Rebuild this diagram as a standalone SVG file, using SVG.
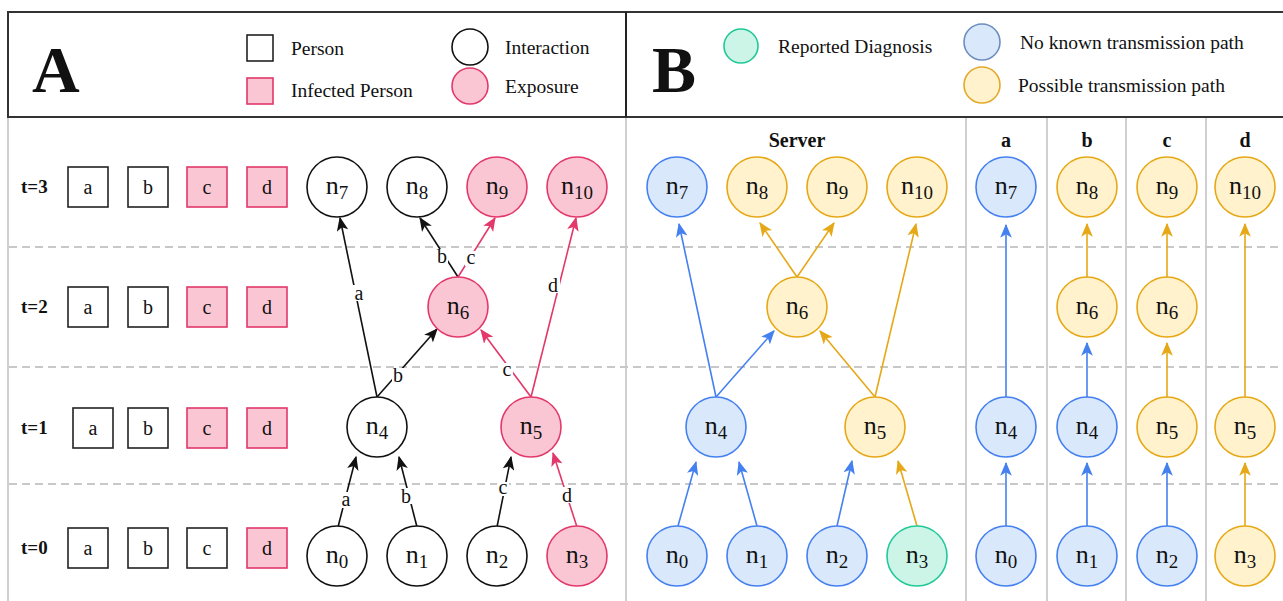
<svg xmlns="http://www.w3.org/2000/svg" width="1283" height="601" viewBox="0 0 1283 601">
<style>
text{font-family:"Liberation Serif","Times New Roman",serif;fill:#111}
.big{font-size:66px;font-weight:bold}
.lg{font-size:19.5px}
.rl{font-size:19px;font-weight:bold}
.hd{font-size:20px;font-weight:bold;text-anchor:middle}
.sq{font-size:20px;text-anchor:middle}
.nt{font-size:26px;text-anchor:middle}
.sub{font-size:19px}
.el{font-size:20px;text-anchor:middle}
.k{fill:#fff;stroke:#111;stroke-width:1.6}
.p{fill:#fbc6d3;stroke:#e2386a;stroke-width:1.6}
.bl{fill:#dae8fc;stroke:#4580f0;stroke-width:1.6}
.or{fill:#fff2cc;stroke:#e6a817;stroke-width:1.6}
.tl{fill:#cdf5e7;stroke:#20c997;stroke-width:1.6}
.sqk{fill:#fff;stroke:#222;stroke-width:1.6}
.sqp{fill:#fbc6d3;stroke:#e2386a;stroke-width:1.6}
.ek{stroke:#111;stroke-width:1.6;fill:none;marker-end:url(#ak)}
.ep{stroke:#e2386a;stroke-width:1.6;fill:none;marker-end:url(#ap)}
.eb{stroke:#4580f0;stroke-width:1.6;fill:none;marker-end:url(#ab)}
.eo{stroke:#e6a817;stroke-width:1.6;fill:none;marker-end:url(#ao)}
.dash{stroke:#c8c8c8;stroke-width:2;stroke-dasharray:8 5}
.vg{stroke:#d0d0d0;stroke-width:2}
.lb{fill:#fff}
</style>
<defs>
<marker id="ak" viewBox="0 0 12 10" markerWidth="14" markerHeight="12" refX="11" refY="5" orient="auto" markerUnits="userSpaceOnUse"><path d="M0,0 L12,5 L0,10 L3,5 z" fill="#111"/></marker>
<marker id="ap" viewBox="0 0 12 10" markerWidth="14" markerHeight="12" refX="11" refY="5" orient="auto" markerUnits="userSpaceOnUse"><path d="M0,0 L12,5 L0,10 L3,5 z" fill="#e2386a"/></marker>
<marker id="ab" viewBox="0 0 12 10" markerWidth="14" markerHeight="12" refX="11" refY="5" orient="auto" markerUnits="userSpaceOnUse"><path d="M0,0 L12,5 L0,10 L3,5 z" fill="#4580f0"/></marker>
<marker id="ao" viewBox="0 0 12 10" markerWidth="14" markerHeight="12" refX="11" refY="5" orient="auto" markerUnits="userSpaceOnUse"><path d="M0,0 L12,5 L0,10 L3,5 z" fill="#e6a817"/></marker>
</defs>
<rect width="1283" height="601" fill="#fff"/>

<g id="frame">
<rect x="8" y="12" width="1290" height="105" fill="none" stroke="#333" stroke-width="2"/>
<line x1="626" y1="12" x2="626" y2="117" stroke="#222" stroke-width="2"/>
<line class="vg" x1="8" y1="118" x2="8" y2="601"/>
<line class="vg" x1="626" y1="118" x2="626" y2="601"/>
<line class="vg" x1="966" y1="118" x2="966" y2="601"/>
<line class="vg" x1="1047" y1="118" x2="1047" y2="601"/>
<line class="vg" x1="1126" y1="118" x2="1126" y2="601"/>
<line class="vg" x1="1206" y1="118" x2="1206" y2="601"/>
<line class="dash" x1="9" y1="247" x2="1283" y2="247"/>
<line class="dash" x1="9" y1="367" x2="1283" y2="367"/>
<line class="dash" x1="9" y1="484" x2="1283" y2="484"/>
</g>

<g id="legendA">
<text class="big" x="32" y="92">A</text>
<rect class="sqk" x="247" y="35" width="26" height="26"/>
<text class="lg" x="291" y="55">Person</text>
<rect class="sqp" x="247" y="78" width="26" height="26"/>
<text class="lg" x="291" y="97">Infected Person</text>
<circle class="k" cx="470" cy="47" r="18"/>
<text class="lg" x="505" y="54">Interaction</text>
<circle class="p" cx="470" cy="86" r="18"/>
<text class="lg" x="505" y="93">Exposure</text>
</g>

<g id="legendB">
<text class="big" x="652" y="92">B</text>
<circle cx="741" cy="46" r="17" fill="#cdf5e7" stroke="#20c997" stroke-width="1.6"/>
<text class="lg" x="778" y="53">Reported Diagnosis</text>
<circle cx="982" cy="42" r="18" fill="#dae8fc" stroke="#6c8ebf" stroke-width="1.6"/>
<text class="lg" x="1020" y="49">No known transmission path</text>
<circle cx="982" cy="85" r="18" fill="#fff2cc" stroke="#e2a92a" stroke-width="1.6"/>
<text class="lg" x="1018" y="92">Possible transmission path</text>
</g>

<g id="rows">
<text class="rl" x="21" y="193">t=3</text>
<rect class="sqk" x="68" y="167" width="40" height="40"/><text class="sq" x="88" y="194">a</text>
<rect class="sqk" x="128" y="167" width="40" height="40"/><text class="sq" x="148" y="194">b</text>
<rect class="sqp" x="187" y="167" width="40" height="40"/><text class="sq" x="207" y="194">c</text>
<rect class="sqp" x="247" y="167" width="40" height="40"/><text class="sq" x="267" y="194">d</text>

<text class="rl" x="21" y="313">t=2</text>
<rect class="sqk" x="68" y="287" width="40" height="40"/><text class="sq" x="88" y="314">a</text>
<rect class="sqk" x="128" y="287" width="40" height="40"/><text class="sq" x="148" y="314">b</text>
<rect class="sqp" x="187" y="287" width="40" height="40"/><text class="sq" x="207" y="314">c</text>
<rect class="sqp" x="247" y="287" width="40" height="40"/><text class="sq" x="267" y="314">d</text>

<text class="rl" x="21" y="434">t=1</text>
<rect class="sqk" x="73" y="408" width="40" height="40"/><text class="sq" x="93" y="435">a</text>
<rect class="sqk" x="128" y="408" width="40" height="40"/><text class="sq" x="148" y="435">b</text>
<rect class="sqp" x="187" y="408" width="40" height="40"/><text class="sq" x="207" y="435">c</text>
<rect class="sqp" x="247" y="408" width="40" height="40"/><text class="sq" x="267" y="435">d</text>

<text class="rl" x="21" y="554">t=0</text>
<rect class="sqk" x="68" y="528" width="40" height="40"/><text class="sq" x="88" y="555">a</text>
<rect class="sqk" x="128" y="528" width="40" height="40"/><text class="sq" x="148" y="555">b</text>
<rect class="sqk" x="187" y="528" width="40" height="40"/><text class="sq" x="207" y="555">c</text>
<rect class="sqp" x="247" y="528" width="40" height="40"/><text class="sq" x="267" y="555">d</text>
</g>

<g id="headers">
<text class="hd" x="797" y="147">Server</text>
<text class="hd" x="1006" y="147">a</text>
<text class="hd" x="1087" y="147">b</text>
<text class="hd" x="1167" y="147">c</text>
<text class="hd" x="1245" y="147">d</text>
</g>

<g id="connectors">
<!-- A -->
<line class="ek" x1="338" y1="527" x2="356" y2="457"/>
<line class="ek" x1="417" y1="527" x2="399" y2="457"/>
<line class="ek" x1="497" y1="527" x2="511" y2="457"/>
<line class="ep" x1="577" y1="527" x2="553" y2="453"/>
<line class="ek" x1="377" y1="397" x2="340" y2="218"/>
<line class="ek" x1="377" y1="397" x2="437" y2="329"/>
<line class="ep" x1="531" y1="397" x2="481" y2="330"/>
<line class="ep" x1="531" y1="397" x2="576" y2="218"/>
<line class="ek" x1="458" y1="277" x2="420" y2="218"/>
<line class="ep" x1="458" y1="277" x2="495" y2="218"/>
<rect class="lb" x="340" y="492" width="12" height="16"/><text class="el" x="346" y="506">a</text>
<rect class="lb" x="400" y="488" width="12" height="16"/><text class="el" x="406" y="503">b</text>
<rect class="lb" x="497" y="482" width="12" height="14"/><text class="el" x="503" y="494">c</text>
<rect class="lb" x="560" y="487" width="13" height="16"/><text class="el" x="567" y="502">d</text>
<rect class="lb" x="353" y="285" width="12" height="16"/><text class="el" x="359" y="300">a</text>
<rect class="lb" x="392" y="368" width="12" height="16"/><text class="el" x="398" y="382">b</text>
<rect class="lb" x="501" y="363" width="12" height="15"/><text class="el" x="507" y="376">c</text>
<rect class="lb" x="547" y="277" width="13" height="16"/><text class="el" x="553" y="292">d</text>
<rect class="lb" x="436" y="249" width="12" height="16"/><text class="el" x="442" y="263">b</text>
<rect class="lb" x="465" y="251" width="12" height="15"/><text class="el" x="471" y="264">c</text>
<!-- B server -->
<line class="eb" x1="678" y1="526" x2="696" y2="462"/>
<line class="eb" x1="757" y1="526" x2="739" y2="462"/>
<line class="eb" x1="837" y1="526" x2="852" y2="461"/>
<line class="eo" x1="917" y1="526" x2="898" y2="461"/>
<line class="eb" x1="716" y1="397" x2="679" y2="224"/>
<line class="eb" x1="716" y1="397" x2="774" y2="331"/>
<line class="eo" x1="875" y1="397" x2="820" y2="331"/>
<line class="eo" x1="875" y1="397" x2="916" y2="224"/>
<line class="eo" x1="797" y1="277" x2="760" y2="223"/>
<line class="eo" x1="797" y1="277" x2="834" y2="223"/>
<!-- B columns -->
<line class="eb" x1="1006" y1="526" x2="1006" y2="463"/>
<line class="eb" x1="1006" y1="397" x2="1006" y2="225"/>
<line class="eb" x1="1087" y1="526" x2="1087" y2="463"/>
<line class="eb" x1="1087" y1="397" x2="1087" y2="343"/>
<line class="eo" x1="1087" y1="277" x2="1087" y2="224"/>
<line class="eb" x1="1167" y1="526" x2="1167" y2="463"/>
<line class="eo" x1="1167" y1="397" x2="1167" y2="343"/>
<line class="eo" x1="1167" y1="277" x2="1167" y2="224"/>
<line class="eo" x1="1245" y1="526" x2="1245" y2="463"/>
<line class="eo" x1="1245" y1="397" x2="1245" y2="224"/>
</g>

<!-- A nodes -->
<g id="A_n0"><circle class="k" cx="337" cy="556" r="30"/><text class="nt" x="337" y="563">n<tspan class="sub" dy="5">0</tspan></text></g>
<g id="A_n1"><circle class="k" cx="417" cy="556" r="30"/><text class="nt" x="417" y="563">n<tspan class="sub" dy="5">1</tspan></text></g>
<g id="A_n2"><circle class="k" cx="497" cy="556" r="30"/><text class="nt" x="497" y="563">n<tspan class="sub" dy="5">2</tspan></text></g>
<g id="A_n3"><circle class="p" cx="577" cy="556" r="30"/><text class="nt" x="577" y="563">n<tspan class="sub" dy="5">3</tspan></text></g>
<g id="A_n4"><circle class="k" cx="377" cy="427" r="30"/><text class="nt" x="377" y="434">n<tspan class="sub" dy="5">4</tspan></text></g>
<g id="A_n5"><circle class="p" cx="531" cy="427" r="30"/><text class="nt" x="531" y="434">n<tspan class="sub" dy="5">5</tspan></text></g>
<g id="A_n6"><circle class="p" cx="458" cy="307" r="30"/><text class="nt" x="458" y="314">n<tspan class="sub" dy="5">6</tspan></text></g>
<g id="A_n7"><circle class="k" cx="337" cy="187" r="30"/><text class="nt" x="337" y="194">n<tspan class="sub" dy="5">7</tspan></text></g>
<g id="A_n8"><circle class="k" cx="417" cy="187" r="30"/><text class="nt" x="417" y="194">n<tspan class="sub" dy="5">8</tspan></text></g>
<g id="A_n9"><circle class="p" cx="497" cy="187" r="30"/><text class="nt" x="497" y="194">n<tspan class="sub" dy="5">9</tspan></text></g>
<g id="A_n10"><circle class="p" cx="577" cy="187" r="30"/><text class="nt" x="577" y="194">n<tspan class="sub" dy="5">10</tspan></text></g>

<!-- B server nodes -->
<g id="S_n0"><circle class="bl" cx="677" cy="556" r="30"/><text class="nt" x="677" y="563">n<tspan class="sub" dy="5">0</tspan></text></g>
<g id="S_n1"><circle class="bl" cx="757" cy="556" r="30"/><text class="nt" x="757" y="563">n<tspan class="sub" dy="5">1</tspan></text></g>
<g id="S_n2"><circle class="bl" cx="837" cy="556" r="30"/><text class="nt" x="837" y="563">n<tspan class="sub" dy="5">2</tspan></text></g>
<g id="S_n3"><circle class="tl" cx="917" cy="556" r="30"/><text class="nt" x="917" y="563">n<tspan class="sub" dy="5">3</tspan></text></g>
<g id="S_n4"><circle class="bl" cx="716" cy="427" r="30"/><text class="nt" x="716" y="434">n<tspan class="sub" dy="5">4</tspan></text></g>
<g id="S_n5"><circle class="or" cx="875" cy="427" r="30"/><text class="nt" x="875" y="434">n<tspan class="sub" dy="5">5</tspan></text></g>
<g id="S_n6"><circle class="or" cx="797" cy="307" r="30"/><text class="nt" x="797" y="314">n<tspan class="sub" dy="5">6</tspan></text></g>
<g id="S_n7"><circle class="bl" cx="677" cy="187" r="30"/><text class="nt" x="677" y="194">n<tspan class="sub" dy="5">7</tspan></text></g>
<g id="S_n8"><circle class="or" cx="757" cy="187" r="30"/><text class="nt" x="757" y="194">n<tspan class="sub" dy="5">8</tspan></text></g>
<g id="S_n9"><circle class="or" cx="837" cy="187" r="30"/><text class="nt" x="837" y="194">n<tspan class="sub" dy="5">9</tspan></text></g>
<g id="S_n10"><circle class="or" cx="917" cy="187" r="30"/><text class="nt" x="917" y="194">n<tspan class="sub" dy="5">10</tspan></text></g>

<!-- B columns nodes -->
<g id="a_n7"><circle class="bl" cx="1006" cy="187" r="30"/><text class="nt" x="1006" y="194">n<tspan class="sub" dy="5">7</tspan></text></g>
<g id="a_n4"><circle class="bl" cx="1006" cy="427" r="30"/><text class="nt" x="1006" y="434">n<tspan class="sub" dy="5">4</tspan></text></g>
<g id="a_n0"><circle class="bl" cx="1006" cy="556" r="30"/><text class="nt" x="1006" y="563">n<tspan class="sub" dy="5">0</tspan></text></g>

<g id="b_n8"><circle class="or" cx="1087" cy="187" r="30"/><text class="nt" x="1087" y="194">n<tspan class="sub" dy="5">8</tspan></text></g>
<g id="b_n6"><circle class="or" cx="1087" cy="307" r="30"/><text class="nt" x="1087" y="314">n<tspan class="sub" dy="5">6</tspan></text></g>
<g id="b_n4"><circle class="bl" cx="1087" cy="427" r="30"/><text class="nt" x="1087" y="434">n<tspan class="sub" dy="5">4</tspan></text></g>
<g id="b_n1"><circle class="bl" cx="1087" cy="556" r="30"/><text class="nt" x="1087" y="563">n<tspan class="sub" dy="5">1</tspan></text></g>

<g id="c_n9"><circle class="or" cx="1167" cy="187" r="30"/><text class="nt" x="1167" y="194">n<tspan class="sub" dy="5">9</tspan></text></g>
<g id="c_n6"><circle class="or" cx="1167" cy="307" r="30"/><text class="nt" x="1167" y="314">n<tspan class="sub" dy="5">6</tspan></text></g>
<g id="c_n5"><circle class="or" cx="1167" cy="427" r="30"/><text class="nt" x="1167" y="434">n<tspan class="sub" dy="5">5</tspan></text></g>
<g id="c_n2"><circle class="bl" cx="1167" cy="556" r="30"/><text class="nt" x="1167" y="563">n<tspan class="sub" dy="5">2</tspan></text></g>

<g id="d_n10"><circle class="or" cx="1245" cy="187" r="30"/><text class="nt" x="1245" y="194">n<tspan class="sub" dy="5">10</tspan></text></g>
<g id="d_n5"><circle class="or" cx="1245" cy="427" r="30"/><text class="nt" x="1245" y="434">n<tspan class="sub" dy="5">5</tspan></text></g>
<g id="d_n3"><circle class="or" cx="1245" cy="556" r="30"/><text class="nt" x="1245" y="563">n<tspan class="sub" dy="5">3</tspan></text></g>
</svg>
